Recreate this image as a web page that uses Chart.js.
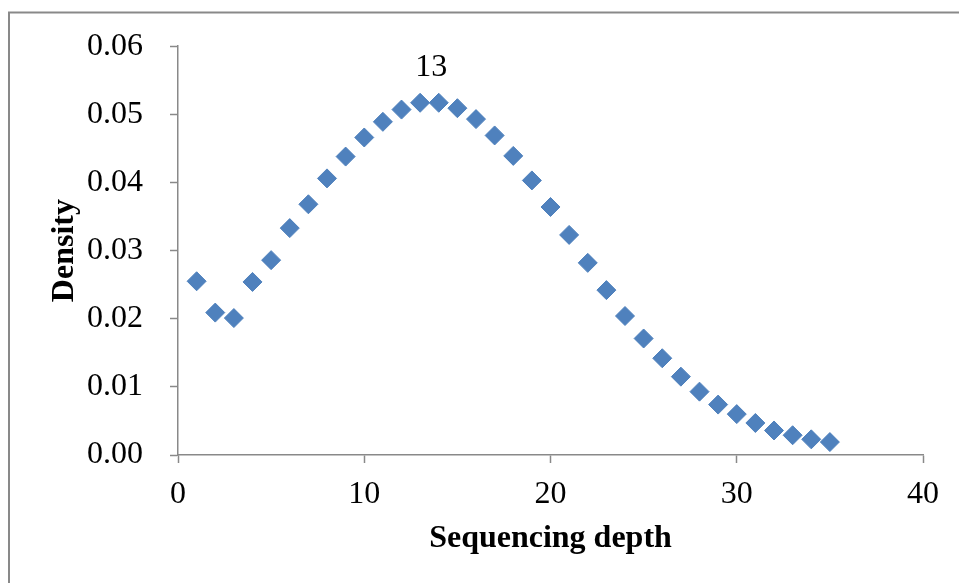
<!DOCTYPE html>
<html>
<head>
<meta charset="utf-8">
<title>Sequencing depth density</title>
<script src="https://cdn.jsdelivr.net/npm/chart.js@4/dist/chart.umd.min.js"></script>
<style>
  html, body { margin: 0; padding: 0; background: #ffffff; }
  #wrap { width: 959px; height: 583px; position: relative; }
</style>
</head>
<body>
<div id="wrap"><canvas id="chart" width="959" height="583"></canvas></div>
<script>
// Sequencing depth (x) and observed density (y)
const depths = [1, 2, 3, 4, 5, 6, 7, 8, 9, 10, 11, 12, 13, 14, 15, 16, 17, 18,
  19, 20, 21, 22, 23, 24, 25, 26, 27, 28, 29, 30, 31, 32, 33, 34, 35];
const densities = [0.0255, 0.0209, 0.0201, 0.0254, 0.0286, 0.0333, 0.0368, 0.0406,
  0.0438, 0.0466, 0.0489, 0.0507, 0.0517, 0.0517, 0.0509, 0.0493, 0.0469, 0.0439,
  0.0403, 0.0364, 0.0323, 0.0282, 0.0242, 0.0204, 0.0171, 0.0142, 0.0115, 0.0093,
  0.0074, 0.0060, 0.0047, 0.0036, 0.0029, 0.0023, 0.0019];

// Axis tick values
const xTicks = [0, 10, 20, 30, 40];
const yTicks = [0, 0.01, 0.02, 0.03, 0.04, 0.05, 0.06];

// Mode annotation
const peakText = '13';
const peakAnchor = { x: 13.6, y: 0.0569 };

const SERIF = '"Liberation Serif", "Times New Roman", serif';
const AXIS_GRAY = '#898989';
const BLUE = '#4F81BD';

const frame = {
  id: 'frame',
  beforeDraw(chart) {
    const ctx = chart.ctx;
    ctx.save();
    ctx.fillStyle = '#ffffff';
    ctx.fillRect(0, 0, chart.width, chart.height);
    ctx.strokeStyle = AXIS_GRAY;
    ctx.lineWidth = 2;
    ctx.beginPath();
    ctx.moveTo(9, chart.height + 5);
    ctx.lineTo(9, 12.5);
    ctx.lineTo(chart.width + 5, 12.5);
    ctx.stroke();
    ctx.restore();
  }
};

const peakLabel = {
  id: 'peakLabel',
  afterDatasetsDraw(chart) {
    const { ctx, scales } = chart;
    const px = scales.x.getPixelForValue(peakAnchor.x);
    const py = scales.y.getPixelForValue(peakAnchor.y);
    ctx.save();
    ctx.font = '32px ' + SERIF;
    ctx.fillStyle = '#000000';
    ctx.textAlign = 'center';
    ctx.textBaseline = 'middle';
    ctx.fillText(peakText, px, py);
    ctx.restore();
  }
};

const axisGrid = {
  display: true,
  drawOnChartArea: false,
  drawTicks: true,
  tickLength: 8,
  tickColor: AXIS_GRAY,
  tickWidth: 1.5,
  color: AXIS_GRAY
};

new Chart(document.getElementById('chart'), {
  type: 'scatter',
  data: {
    datasets: [{
      label: 'Density',
      data: depths.map((d, i) => ({ x: d, y: densities[i] })),
      pointStyle: 'rectRot',
      pointRadius: 9.5,
      pointHoverRadius: 9.5,
      backgroundColor: BLUE,
      borderColor: BLUE,
      borderWidth: 1
    }]
  },
  options: {
    responsive: false,
    animation: false,
    devicePixelRatio: 1,
    layout: { padding: { left: 0, right: 36, top: 44, bottom: 0 } },
    plugins: {
      legend: { display: false },
      tooltip: { enabled: false }
    },
    scales: {
      x: {
        type: 'linear',
        min: 0,
        max: 40,
        afterBuildTicks(scale) { scale.ticks = xTicks.map(v => ({ value: v })); },
        afterFit(scale) { scale.height = 583 - 455; },
        grid: axisGrid,
        border: { display: true, color: AXIS_GRAY, width: 1.5 },
        ticks: {
          color: '#000000',
          padding: 12,
          maxRotation: 0,
          font: { family: SERIF, size: 32 },
          callback: v => String(v)
        },
        title: {
          display: true,
          text: 'Sequencing depth',
          color: '#000000',
          font: { family: SERIF, size: 32, weight: 'bold' },
          padding: { top: 0, bottom: 25 }
        }
      },
      y: {
        type: 'linear',
        min: 0,
        max: 0.06,
        afterBuildTicks(scale) { scale.ticks = yTicks.map(v => ({ value: v })); },
        afterFit(scale) { scale.width = 178; },
        grid: axisGrid,
        border: { display: true, color: AXIS_GRAY, width: 1.5 },
        ticks: {
          color: '#000000',
          padding: 27,
          font: { family: SERIF, size: 32 },
          callback: v => v.toFixed(2)
        },
        title: {
          display: true,
          text: 'Density',
          color: '#000000',
          font: { family: SERIF, size: 32, weight: 'bold' },
          padding: { top: 46, bottom: 0 }
        }
      }
    }
  },
  plugins: [frame, peakLabel]
});
</script>
</body>
</html>
